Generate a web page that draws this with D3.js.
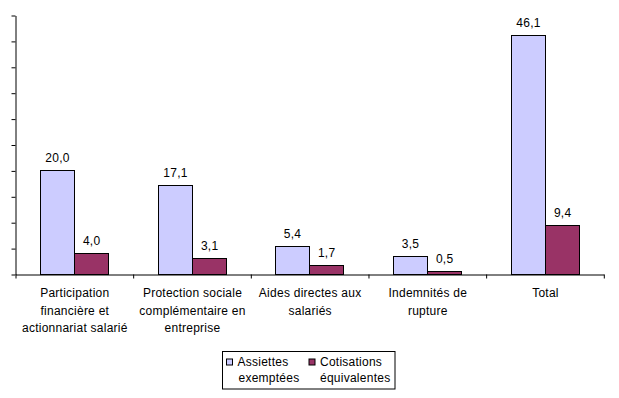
<!DOCTYPE html>
<html>
<head>
<meta charset="utf-8">
<script src="https://cdn.jsdelivr.net/npm/d3@7"></script>
<style>
  body { margin: 0; background: #fff; }
  text { font-family: Arial, "Liberation Sans", sans-serif; fill: #000; letter-spacing: 0.25px; }
</style>
</head>
<body>
<script>
// data
var categories = ["Participation financière et actionnariat salarié",
  "Protection sociale complémentaire en entreprise",
  "Aides directes aux salariés", "Indemnités de rupture", "Total"];
var categoryLines = [["Participation", "financière et", "actionnariat salarié"],
  ["Protection sociale", "complémentaire en", "entreprise"],
  ["Aides directes aux", "salariés"],
  ["Indemnités de", "rupture"],
  ["Total"]];
var seriesNames = ["Assiettes exemptées", "Cotisations équivalentes"];
var legendLines = [["Assiettes", "exemptées"], ["Cotisations", "équivalentes"]];
var assiettes = [20.0, 17.1, 5.4, 3.5, 46.1];
var cotisations = [4.0, 3.1, 1.7, 0.5, 9.4];
var yTicks = [0, 5, 10, 15, 20, 25, 30, 35, 40, 45, 50];
var colours = ["#ccccff", "#993366"];

var width = 619, height = 398;
var plotLeft = 15, plotRight = 603.3, plotTop = 15, plotBottom = 274;

var svg = d3.select("body").append("svg")
    .attr("width", width).attr("height", height);

var x = d3.scaleBand().domain(categories).range([plotLeft, plotRight]).padding(0);
var bw = x.bandwidth();
var x1 = d3.scaleBand().domain(seriesNames).range([bw * 0.212, bw * 0.792]).padding(0);
var y = d3.scaleLinear().domain([0, 50]).range([plotBottom, plotTop]);
// linear helper for tick marks between categories
var xb = d3.scaleLinear().domain([0, categories.length]).range([plotLeft, plotRight]);

var rows = categories.map(function(c, i) {
    return { cat: c, vals: [assiettes[i], cotisations[i]] };
});

// bars
var groups = svg.selectAll("g.grp").data(rows).enter().append("g")
    .attr("class", "grp")
    .attr("transform", function(d) { return "translate(" + Math.round(x(d.cat)) + ",0)"; });

groups.selectAll("rect").data(function(d) {
        return d.vals.map(function(v, j) { return { s: seriesNames[j], v: v, j: j }; });
    }).enter().append("rect")
    .attr("x", function(d) { return Math.round(x1(d.s)) + 0.5; })
    .attr("y", function(d) { return Math.round(y(d.v)) + 0.5; })
    .attr("width", Math.round(x1.bandwidth()))
    .attr("height", function(d) { return Math.round(y(0)) - Math.round(y(d.v)); })
    .attr("fill", function(d) { return colours[d.j]; })
    .attr("stroke", "#000").attr("stroke-width", 1);

groups.selectAll("text.val").data(function(d) {
        return d.vals.map(function(v, j) { return { s: seriesNames[j], v: v }; });
    }).enter().append("text")
    .attr("class", "val")
    .attr("x", function(d) { return x1(d.s) + x1.bandwidth() / 2 + 0.5; })
    .attr("y", function(d) { return y(d.v) - 8; })
    .attr("text-anchor", "middle")
    .attr("font-size", 12)
    .text(function(d) { return d3.format(".1f")(d.v).replace(".", ","); });

// y axis: ticks only, no labels
svg.append("g")
    .attr("transform", "translate(" + (plotLeft + 0.5) + ",0.5)")
    .call(d3.axisLeft(y).tickValues(yTicks).tickFormat("").tickSize(4).tickSizeOuter(0))
    .call(function(g) { g.selectAll("path, line").attr("stroke", "#000"); });

// x axis: ticks between categories
svg.append("g")
    .attr("transform", "translate(0.5," + (plotBottom + 0.5) + ")")
    .call(d3.axisBottom(xb).ticks(categories.length).tickFormat("").tickSize(4).tickSizeOuter(0))
    .call(function(g) { g.selectAll("path, line").attr("stroke", "#000"); });

// category labels
svg.selectAll("text.cat").data(categories).enter().append("text")
    .attr("class", "cat")
    .attr("text-anchor", "middle")
    .attr("font-size", 12)
    .each(function(c, i) {
        var t = d3.select(this);
        categoryLines[i].forEach(function(line, k) {
            t.append("tspan")
                .attr("x", x(c) + bw / 2 + 1)
                .attr("y", 297 + k * 17.5)
                .text(line);
        });
    });

// legend
var legend = svg.append("g").attr("transform", "translate(222.5,351.5)");
legend.append("rect")
    .attr("width", 172.5).attr("height", 37.5)
    .attr("fill", "#fff").attr("stroke", "#000");
var items = legend.selectAll("g.item").data(seriesNames).enter().append("g")
    .attr("class", "item")
    .attr("transform", function(d, i) { return "translate(" + (4 + i * 82.5) + ",0)"; });
items.append("rect")
    .attr("x", 0).attr("y", 7.5).attr("width", 6).attr("height", 6)
    .attr("fill", function(d, i) { return colours[i]; })
    .attr("stroke", "#000");
items.append("text")
    .attr("font-size", 12)
    .each(function(d, i) {
        var t = d3.select(this);
        legendLines[i].forEach(function(line, k) {
            t.append("tspan").attr("x", 11 + (i === 0 && k === 1 ? 1 : 0)).attr("y", 14.5 + k * 15.5).text(line);
        });
    });
</script>
</body>
</html>
